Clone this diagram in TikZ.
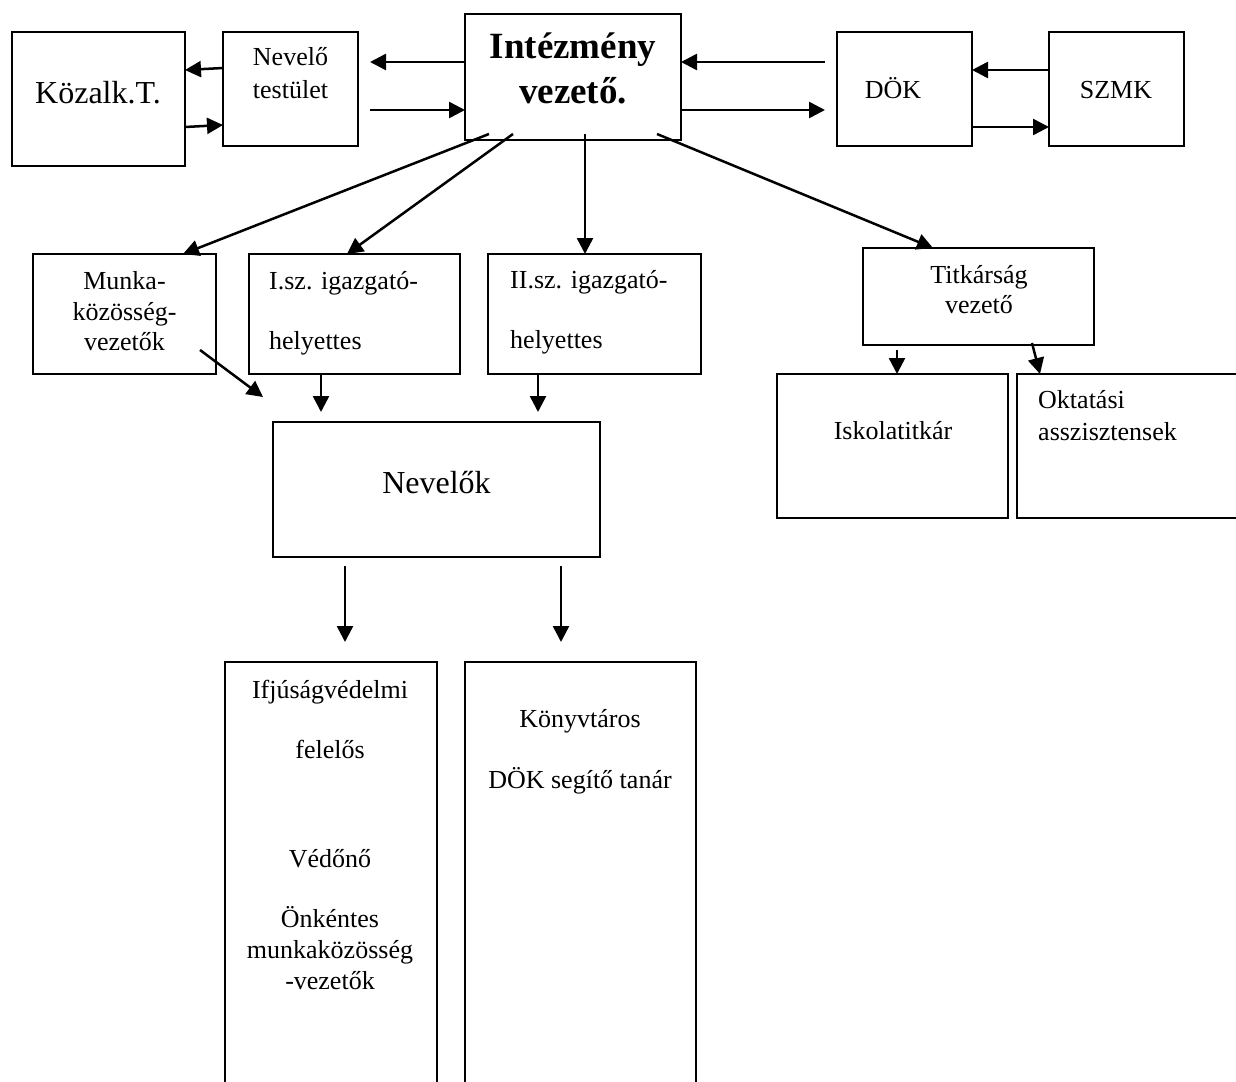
\documentclass[tikz,border=0pt]{standalone}
\usepackage{fontspec}
\setmainfont{Liberation Serif}
\usetikzlibrary{arrows.meta,calc}
\begin{document}
\begin{tikzpicture}[x=1pt,y=-1pt,
  box/.style={draw,line width=1.8pt,inner sep=0pt,outer sep=0pt,rectangle},
  lbl/.style={anchor=base,inner sep=0pt,font=\fontsize{26}{30}\selectfont},
  lblw/.style={anchor=base west,inner sep=0pt,font=\fontsize{26}{30}\selectfont},
  big/.style={anchor=base,inner sep=0pt,font=\fontsize{32}{36}\selectfont},
  head/.style={anchor=base,inner sep=0pt,font=\fontsize{37}{44}\selectfont\bfseries},
  arr/.style={line width=2.5pt,-{Triangle[length=16pt,width=16pt]}}]
\useasboundingbox (0,0) rectangle (1236,1081);
\clip (0,0) rectangle (1236,1081);
\fill[white] (0,0) rectangle (1236,1081);

% boxes
\node[box,minimum width=173pt,minimum height=134pt] (kozalk) at (98.5,99) {};
\node[box,minimum width=135pt,minimum height=114pt] (nevt) at (290.5,89) {};
\node[box,minimum width=216pt,minimum height=126pt] (iv) at (573,77) {};
\node[box,minimum width=135pt,minimum height=114pt] (dok) at (904.5,89) {};
\node[box,minimum width=135pt,minimum height=114pt] (szmk) at (1116.5,89) {};
\node[box,minimum width=183pt,minimum height=120pt] (munka) at (124.5,314) {};
\node[box,minimum width=211pt,minimum height=120pt] (isz) at (354.5,314) {};
\node[box,minimum width=213pt,minimum height=120pt] (iisz) at (594.5,314) {};
\node[box,minimum width=327pt,minimum height=135pt] (nev) at (436.5,489.5) {};
\node[box,minimum width=231pt,minimum height=97pt] (titk) at (978.5,296.5) {};
\node[box,minimum width=231pt,minimum height=144pt] (isk) at (892.5,446) {};
\node[box,minimum width=231pt,minimum height=144pt] (okt) at (1132.5,446) {};
\node[box,minimum width=212pt,minimum height=438pt] (ifj) at (331,881) {};
\node[box,minimum width=231pt,minimum height=438pt] (konyv) at (580.5,881) {};

% texts
\node[big] (t-kozalk) at (98,103) {Közalk.T.};
\node[lbl] (t-nevt1) at (290.5,66) {Nevelő};
\node[lbl] (t-nevt2) at (290.5,98) {testület};
\node[head] (t-iv1) at (573,59) {Intézmény};
\node[head] (t-iv2) at (573,103) {vezető.};
\node[lbl] (t-dok) at (893,98) {DÖK};
\node[lbl] (t-szmk) at (1116,98) {SZMK};
\node[lbl] (t-munka1) at (124.5,289) {Munka-};
\node[lbl] (t-munka2) at (124.5,320) {közösség-};
\node[lbl] (t-munka3) at (124.5,350) {vezetők};
\node[lblw] (t-isz1) at (269,289) {I.sz. igazgató-};
\node[lblw] (t-isz2) at (269,349) {helyettes};
\node[lblw] (t-iisz1) at (510,288) {II.sz. igazgató-};
\node[lblw] (t-iisz2) at (510,348) {helyettes};
\node[big] (t-nev) at (436.5,493) {Nevelők};
\node[lbl] (t-titk1) at (979,283) {Titkárság};
\node[lbl] (t-titk2) at (979,313) {vezető};
\node[lbl] (t-isk) at (893,439) {Iskolatitkár};
\node[lblw] (t-okt1) at (1038,408) {Oktatási};
\node[lblw] (t-okt2) at (1038,440) {asszisztensek};
\node[lbl] (t-ifj1) at (330,698) {Ifjúságvédelmi};
\node[lbl] (t-ifj2) at (330,758) {felelős};
\node[lbl] (t-ifj3) at (330,867) {Védőnő};
\node[lbl] (t-ifj4) at (330,927) {Önkéntes};
\node[lbl] (t-ifj5) at (330,958) {munkaközösség};
\node[lbl] (t-ifj6) at (330,989) {-vezetők};
\node[lbl] (t-konyv1) at (580,727) {Könyvtáros};
\node[lbl] (t-konyv2) at (580,788) {DÖK segítő tanár};

% free arrow ends
\coordinate (nevtR1) at (370,62);
\coordinate (nevtR2) at (370,110);
\coordinate (dokL1) at (825,62);
\coordinate (dokL2) at (825,110);
\coordinate (ivS1) at (489,134);
\coordinate (ivS2) at (513,134);
\coordinate (ivS3) at (585,134);
\coordinate (ivS4) at (657,134);
\coordinate (munkaOut) at (200,350);
\coordinate (nevIn1) at (263,397);
\coordinate (nevIn2) at (321,412);
\coordinate (nevIn3) at (538,412);
\coordinate (nevOut1) at (345,566);
\coordinate (nevOut2) at (561,566);
\coordinate (ifjIn) at (345,642);
\coordinate (konyvIn) at (561,642);
\coordinate (titkOut1) at (897,350);
\coordinate (titkOut2) at (1032,343);

% connectors
\draw[arr] (nevt.west |- 0,68) -- (kozalk.east |- 0,70);
\draw[arr] (kozalk.east |- 0,127) -- (nevt.west |- 0,125);
\draw[arr] (iv.west |- 0,62) -- (nevtR1);
\draw[arr] (nevtR2) -- (iv.west |- 0,110);
\draw[arr] (dokL1) -- (iv.east |- 0,62);
\draw[arr] (iv.east |- 0,110) -- (dokL2);
\draw[arr] (szmk.west |- 0,70) -- (dok.east |- 0,70);
\draw[arr] (dok.east |- 0,127) -- (szmk.west |- 0,127);
\draw[arr] (ivS1) -- (munka.north -| 183,0);
\draw[arr] (ivS2) -- (isz.north -| 347,0);
\draw[arr] (ivS3) -- (iisz.north -| ivS3);
\draw[arr] (ivS4) -- (titk.north -| 933,0);
\draw[arr] (munkaOut) -- (nevIn1);
\draw[arr] (isz.south -| nevIn2) -- (nevIn2);
\draw[arr] (iisz.south -| nevIn3) -- (nevIn3);
\draw[arr] (nevOut1) -- (ifjIn);
\draw[arr] (nevOut2) -- (konyvIn);
\draw[arr] (titkOut1) -- (titkOut1 |- isk.north);
\draw[arr] (titkOut2) -- (okt.north -| 1040,0);
\end{tikzpicture}
\end{document}
